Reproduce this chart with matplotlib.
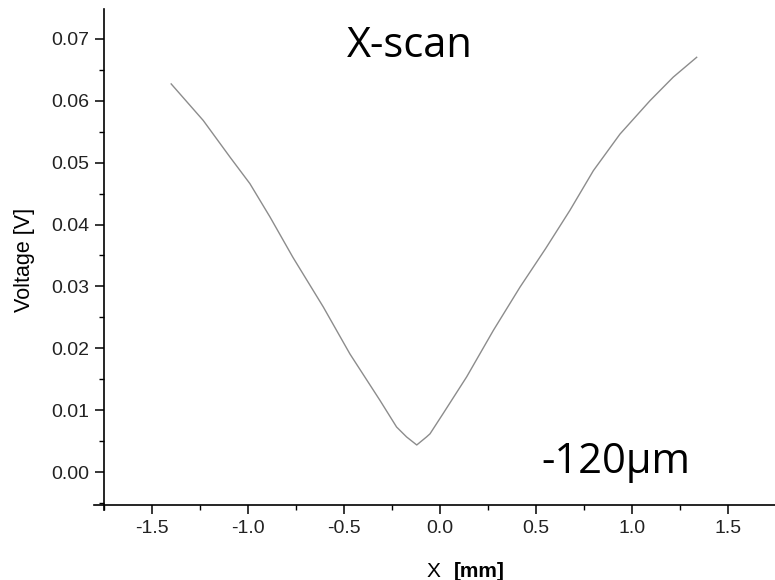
"""
X-scan of the detector voltage
"""

import matplotlib

matplotlib.use("Agg")
import matplotlib.pyplot as plt
from matplotlib.ticker import MultipleLocator

x_mm = [
    -1.40, -1.233, -1.094, -0.99, -0.885, -0.766, -0.608, -0.469, -0.3125,
    -0.226, -0.174, -0.121, -0.07, -0.052, 0.017, 0.139, 0.278, 0.417,
    0.55, 0.677, 0.799, 0.9375, 1.094, 1.215, 1.337,
]
voltage = [
    0.0627, 0.0568, 0.0509, 0.0466, 0.0412, 0.0347, 0.0267, 0.0191, 0.0116,
    0.0073, 0.0057, 0.0044, 0.0057, 0.0062, 0.0095, 0.0154, 0.0229, 0.0299,
    0.0361, 0.0423, 0.0487, 0.0546, 0.0600, 0.0638, 0.0670,
]
xticks = [-1.5, -1.0, -0.5, 0.0, 0.5, 1.0, 1.5]
yticks = [0.00, 0.01, 0.02, 0.03, 0.04, 0.05, 0.06, 0.07]

plt.rcParams["font.family"] = ["Liberation Sans", "DejaVu Sans"]

fig = plt.figure(figsize=(7.75, 5.8), dpi=100)
ax = fig.add_axes([94 / 775, 1 - 510 / 580, 1 - 94 / 775, 501 / 580])

ax.plot(x_mm, voltage, color="#8c8c8c", linewidth=1.0)

# Origin-style axes: spines cross a little inside the frame
ax.set_xlim(-1.802, 1.745)
ax.set_ylim(-0.0061, 0.0748)
ax.spines["left"].set_position(("data", -1.75))
ax.spines["bottom"].set_position(("data", -0.0053))
ax.spines["right"].set_visible(False)
ax.spines["top"].set_visible(False)
for side in ("left", "bottom"):
    ax.spines[side].set_linewidth(1.2)

ax.set_xticks(xticks)
ax.set_xticklabels(["{:.1f}".format(v) for v in xticks])
ax.set_yticks(yticks)
ax.set_yticklabels(["{:.2f}".format(v) for v in yticks])
ax.xaxis.set_minor_locator(MultipleLocator(0.25))
ax.yaxis.set_minor_locator(MultipleLocator(0.005))
ax.tick_params(which="major", direction="out", length=6.5, width=1.1,
               labelsize=14, pad=4, colors="black")
ax.tick_params(which="minor", direction="out", length=3.6, width=1.0)
ax.tick_params(axis="both", labelcolor="#222222")

ax.set_ylabel("Voltage [V]", fontsize=15.5, labelpad=12)

# x label: plain "X" with bold unit
ax.text(0.489, -0.133, "X", transform=ax.transAxes, fontsize=15,
        ha="left", va="baseline")
ax.text(0.529, -0.133, "[mm]", transform=ax.transAxes, fontsize=15,
        fontweight="bold", ha="left", va="baseline")

ax.text(0.464, 0.905, "X-scan", transform=ax.transAxes, fontsize=30,
        family=["Open Sans", "DejaVu Sans"], ha="center", va="baseline")
ax.text(0.767, 0.073, "-120\u00b5m", transform=ax.transAxes, fontsize=30,
        family=["Open Sans", "DejaVu Sans"], ha="center", va="baseline")

plt.savefig("out.png", dpi=100)
